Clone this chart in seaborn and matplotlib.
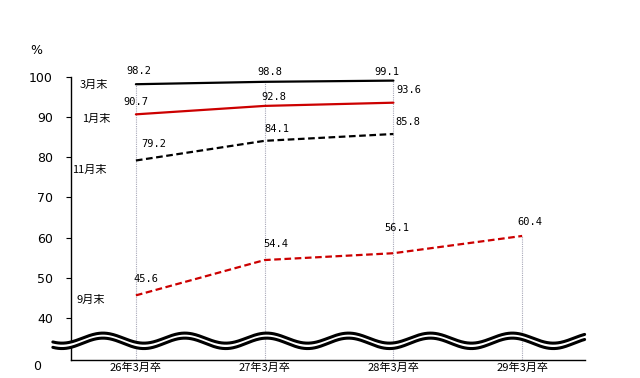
import numpy as np
import pandas as pd
import matplotlib
matplotlib.use("Agg")
import matplotlib.pyplot as plt
import seaborn as sns

# データ
categories = ["26年3月卒", "27年3月卒", "28年3月卒", "29年3月卒"]
mar_end = [98.2, 98.8, 99.1]      # 3月末
jan_end = [90.7, 92.8, 93.6]      # 1月末
nov_end = [79.2, 84.1, 85.8]      # 11月末
sep_end = [45.6, 54.4, 56.1, 60.4]  # 9月末
series_names = ["3月末", "1月末", "11月末", "9月末"]
yticks = [40, 50, 60, 70, 80, 90, 100]

rows = []
for name, vals in zip(series_names, [mar_end, jan_end, nov_end, sep_end]):
    for i, v in enumerate(vals):
        rows.append({"系列": name, "x": i, "値": v})
df = pd.DataFrame(rows)

sns.set_style("white")
plt.rcParams["font.family"] = ["Noto Sans CJK JP", "DejaVu Sans"]
plt.rcParams["text.color"] = "black"
plt.rcParams["xtick.color"] = "black"
plt.rcParams["ytick.color"] = "black"

fig = plt.figure(figsize=(6.4, 3.78), dpi=100)
ax = fig.add_axes([71 / 640, 1 - 360 / 378, (585 - 71) / 640, (360 - 77) / 378])

ymin = 29.5
# ドロップライン
for i in range(len(categories)):
    top = df.loc[df["x"] == i, "値"].max()
    ax.vlines(i, ymin, top, color="#a8a8b8", lw=0.8, linestyles=(0, (1, 1)), zorder=1)

styles = {
    "3月末": dict(color="black", linestyle="-"),
    "1月末": dict(color="#cc0000", linestyle="-"),
    "11月末": dict(color="black", linestyle=(0, (3, 1.6))),
    "9月末": dict(color="#cc0000", linestyle=(0, (3, 1.6))),
}
for name in series_names:
    sub = df[df["系列"] == name]
    sns.lineplot(data=sub, x="x", y="値", ax=ax, lw=1.6, zorder=3, **styles[name])

# 数値ラベル（ピクセルオフセット）
offsets = {
    "3月末": [(3, 13), (5, 10), (-7, 9)],
    "1月末": [(0, 12), (9, 9), (15, 13)],
    "11月末": [(18, 16), (12, 12), (14, 12)],
    "9月末": [(10, 16), (11, 16), (3, 25), (8, 14)],
}
for name in series_names:
    sub = df[df["系列"] == name]
    for (x, v), off in zip(zip(sub["x"], sub["値"]), offsets[name]):
        ax.annotate(f"{v:.1f}", (x, v), xytext=off, textcoords="offset pixels",
                    ha="center", va="center", fontsize=7.5,
                    family=["DejaVu Sans Mono"], annotation_clip=False)

# 系列名ラベル
name_pos = {"3月末": (-0.33, 98.0), "1月末": (-0.31, 89.5),
            "11月末": (-0.36, 76.8), "9月末": (-0.35, 44.5)}
for name, (x, y) in name_pos.items():
    ax.text(x, y, name, ha="center", va="center", fontsize=8)

# 波線（省略記号）
wx = np.linspace(-0.645, 3.485, 600)
phase = np.cos(2 * np.pi * (wx + 0.256) / 0.636)
upper = 34.95 + 1.25 * phase
lower = 33.65 + 1.3 * phase
ax.fill_between(wx, lower, upper, color="white", zorder=5, clip_on=False, lw=0)
ax.plot(wx, upper, color="black", lw=2.2, zorder=6, clip_on=False)
ax.plot(wx, lower, color="black", lw=2.2, zorder=6, clip_on=False)

ax.set_xlim(-0.504, 3.488)
ax.set_ylim(ymin, 100)
ax.set_xticks(range(len(categories)))
ax.set_xticklabels(categories, fontsize=8)
ax.set_yticks(yticks)
ax.set_yticklabels([str(t) for t in yticks], fontsize=9, family=["DejaVu Sans"])
ax.tick_params(axis="y", length=3.6, width=0.8, direction="out", left=True, pad=9.4, color="black")
ax.tick_params(axis="x", length=0, pad=1.5)
ax.set_xlabel("")
ax.set_ylabel("")
for s in ["top", "right"]:
    ax.spines[s].set_visible(False)
for s in ["left", "bottom"]:
    ax.spines[s].set_color("black")
    ax.spines[s].set_linewidth(1.0)

fig.text(36 / 640, 1 - 50 / 378, "%", ha="center", va="center", fontsize=9, family=["DejaVu Sans"])
fig.text(37 / 640, 1 - 366 / 378, "0", ha="center", va="center", fontsize=9, family=["DejaVu Sans"])

fig.savefig("out.png", dpi=100)
